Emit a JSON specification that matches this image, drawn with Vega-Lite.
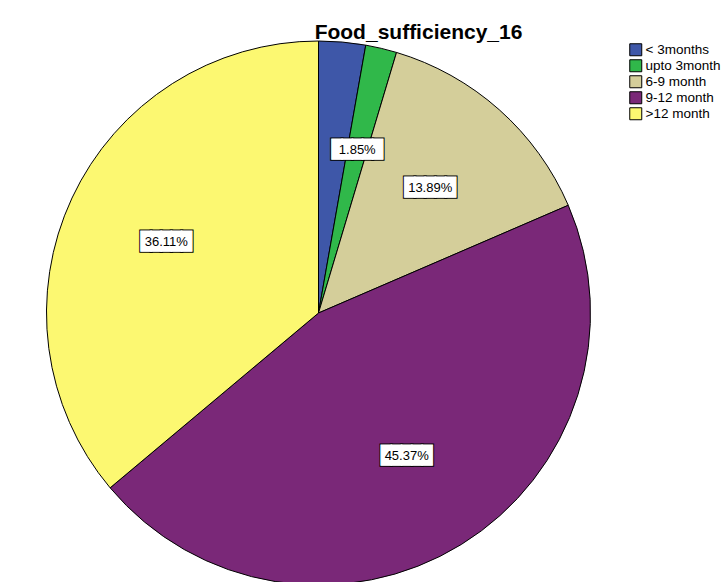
{
  "$schema": "https://vega.github.io/schema/vega-lite/v6.json",
  "width": 637,
  "height": 538,
  "autosize": "none",
  "padding": {"left": 0, "top": 44, "right": 88, "bottom": 0},
  "background": "white",
  "config": {"view": {"stroke": null}},
  "title": {
    "text": "Food_sufficiency_16",
    "font": "Liberation Sans",
    "fontSize": 21,
    "fontWeight": "bold",
    "color": "#000000",
    "anchor": "middle",
    "dx": 100,
    "dy": 32,
    "baseline": "alphabetic",
    "offset": 11
  },
  "data": {
    "values": [
      {"k": 1, "cat": "< 3months", "pct": 2.78, "label": "2.78%"},
      {"k": 2, "cat": "upto 3month", "pct": 1.85, "label": "1.85%"},
      {"k": 3, "cat": "6-9 month", "pct": 13.89, "label": "13.89%"},
      {"k": 4, "cat": "9-12 month", "pct": 45.37, "label": "45.37%"},
      {"k": 5, "cat": ">12 month", "pct": 36.11, "label": "36.11%"}
    ]
  },
  "encoding": {
    "theta": {"field": "pct", "type": "quantitative", "stack": true},
    "order": {"field": "k", "type": "quantitative"}
  },
  "layer": [
    {
      "mark": {"type": "arc", "outerRadius": 272, "stroke": "#000000", "strokeWidth": 1},
      "encoding": {
        "color": {
          "field": "cat",
          "type": "nominal",
          "sort": ["< 3months", "upto 3month", "6-9 month", "9-12 month", ">12 month"],
          "scale": {
            "domain": ["< 3months", "upto 3month", "6-9 month", "9-12 month", ">12 month"],
            "range": ["#3e57a8", "#30b84a", "#d4ce9a", "#7a2878", "#fcf871"]
          },
          "legend": {
            "title": null,
            "orient": "none",
            "legendX": 629,
            "legendY": -1,
            "symbolType": "square",
            "symbolSize": 144,
            "symbolStrokeColor": "#000000",
            "symbolStrokeWidth": 1,
            "symbolOpacity": 1,
            "labelFont": "Liberation Sans",
            "labelFontSize": 13.5,
            "labelColor": "#000000",
            "labelOffset": 3,
            "rowPadding": -1
          }
        }
      }
    },
    {
      "mark": {"type": "text", "radius": 168, "text": "█████", "font": "DejaVu Sans Mono", "fontSize": 17, "fill": "#ffffff", "stroke": "#000000", "strokeWidth": 3, "baseline": "middle", "align": "center"},
      "encoding": {
        "opacity": {"condition": {"test": "datum.pct > 2.5 && datum.pct < 3", "value": 0}, "value": 1}
      }
    },
    {
      "mark": {"type": "text", "radius": 168, "text": "█████", "font": "DejaVu Sans Mono", "fontSize": 17, "fill": "#ffffff", "stroke": "#ffffff", "strokeWidth": 1, "baseline": "middle", "align": "center"},
      "encoding": {
        "opacity": {"condition": {"test": "datum.pct > 2.5 && datum.pct < 3", "value": 0}, "value": 1}
      }
    },
    {
      "mark": {"type": "text", "radius": 168, "font": "Liberation Sans", "fontSize": 13, "fill": "#000000", "baseline": "middle", "align": "center"},
      "encoding": {
        "text": {"field": "label", "type": "nominal"},
        "opacity": {"condition": {"test": "datum.pct > 2.5 && datum.pct < 3", "value": 0}, "value": 1}
      }
    }
  ]
}
